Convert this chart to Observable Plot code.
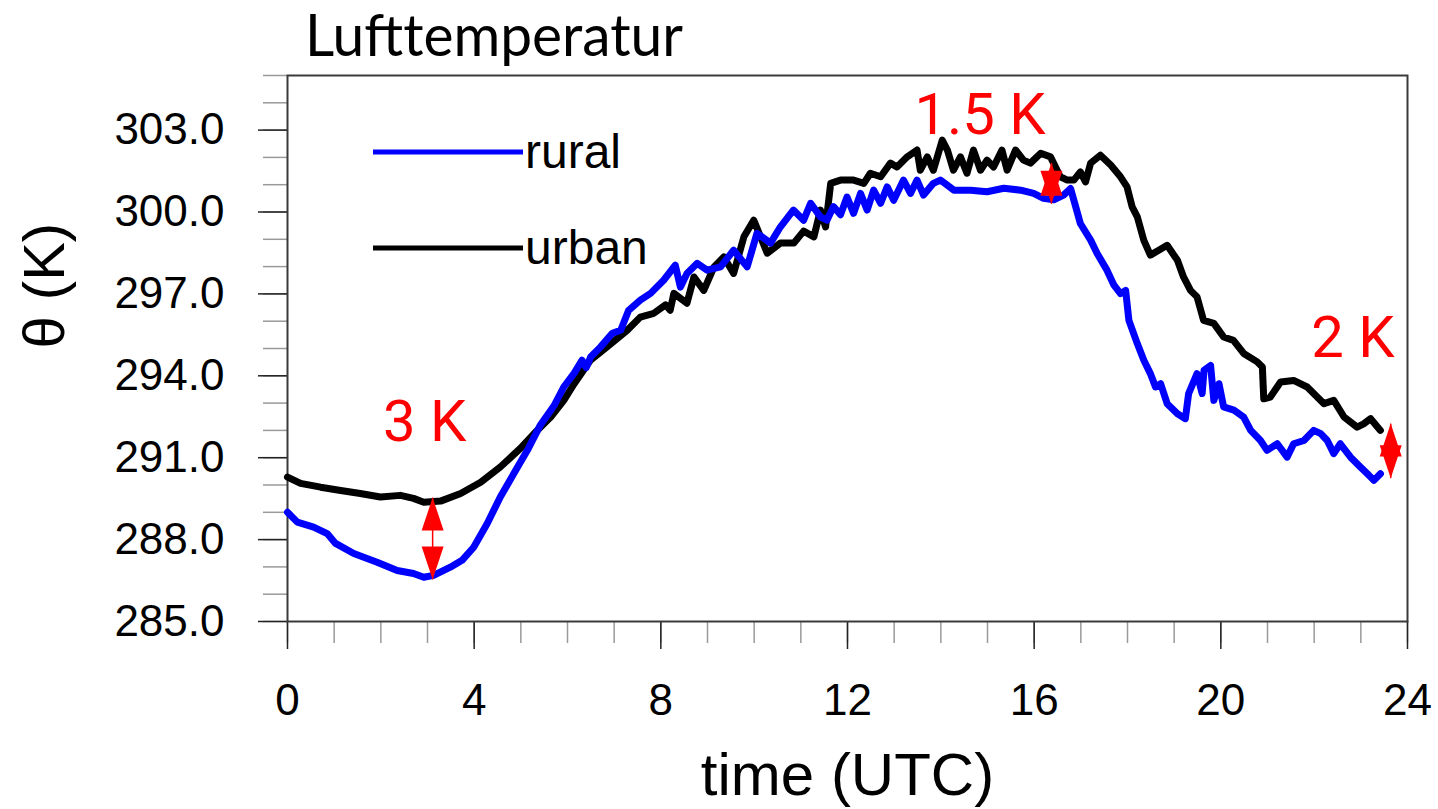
<!DOCTYPE html>
<html>
<head>
<meta charset="utf-8">
<script src="https://cdn.jsdelivr.net/npm/d3@7"></script>
<script src="https://cdn.jsdelivr.net/npm/@observablehq/plot@0.6"></script>
<style>
  body { margin: 0; background: #fff; }
  #chart svg { display: block; }
</style>
</head>
<body>
<div id="chart"></div>
<script>
// Potential temperature over one day, rural vs urban station (hours UTC, K)
const ruralTime = [0.00,0.21,0.56,0.85,1.03,1.42,1.92,2.35,2.70,2.92,3.13,3.49,3.74,3.99,4.28,4.56,4.85,5.14,5.42,5.71,5.92,6.14,6.31,6.40,6.50,6.71,6.96,7.14,7.31,7.56,7.78,8.06,8.31,8.42,8.56,8.78,8.99,9.28,9.56,9.85,10.06,10.35,10.56,10.84,11.06,11.21,11.42,11.56,11.70,11.85,11.99,12.13,12.28,12.42,12.56,12.71,12.85,12.99,13.20,13.35,13.49,13.63,13.84,13.99,14.28,14.64,14.99,15.35,15.71,15.99,16.20,16.42,16.63,16.78,16.89,16.99,17.21,17.35,17.56,17.71,17.85,17.96,18.03,18.21,18.35,18.49,18.60,18.71,18.85,19.07,19.24,19.31,19.49,19.60,19.64,19.78,19.85,19.96,20.06,20.28,20.49,20.64,20.85,20.99,21.21,21.42,21.56,21.78,21.99,22.14,22.28,22.42,22.56,22.78,22.99,23.14,23.28,23.42];
const ruralTheta = [289.00,288.64,288.46,288.22,287.86,287.49,287.17,286.87,286.76,286.62,286.69,286.99,287.24,287.72,288.59,289.56,290.42,291.27,292.20,292.90,293.59,294.09,294.57,294.30,294.70,295.06,295.56,295.67,296.40,296.77,297.02,297.50,298.05,297.25,297.75,298.12,297.87,297.99,298.60,297.99,299.22,298.86,299.45,300.07,299.70,300.32,299.82,299.70,300.20,299.90,300.55,299.95,300.68,300.07,300.80,300.32,300.92,300.43,301.17,300.68,301.17,300.62,301.05,301.17,300.80,300.80,300.74,300.87,300.80,300.68,300.50,300.45,300.62,300.86,300.19,299.58,298.97,298.48,297.87,297.32,297.01,297.13,296.03,295.18,294.57,294.08,293.59,293.71,292.98,292.61,292.43,293.35,294.08,293.35,294.20,294.38,293.10,293.71,292.86,292.74,292.49,292.00,291.63,291.27,291.51,291.02,291.51,291.63,292.00,291.88,291.63,291.15,291.51,291.02,290.66,290.41,290.17,290.41];

const urbanTime = [0.00,0.28,0.71,1.14,1.56,1.99,2.42,2.70,2.92,3.28,3.71,4.14,4.56,4.99,5.35,5.64,5.92,6.14,6.49,6.85,7.28,7.56,7.85,8.10,8.20,8.28,8.56,8.71,8.92,9.14,9.35,9.56,9.78,9.99,10.28,10.56,10.85,11.06,11.28,11.42,11.53,11.64,11.85,12.13,12.35,12.49,12.71,12.92,13.06,13.28,13.49,13.56,13.71,13.84,14.03,14.14,14.27,14.42,14.56,14.70,14.85,14.99,15.13,15.31,15.42,15.60,15.77,15.92,16.14,16.35,16.56,16.71,16.85,16.99,17.10,17.21,17.42,17.64,17.85,17.99,18.10,18.21,18.35,18.49,18.67,18.85,19.07,19.20,19.35,19.49,19.63,19.85,20.06,20.27,20.49,20.78,20.89,20.92,21.06,21.28,21.56,21.85,21.99,22.21,22.42,22.64,22.92,23.06,23.21,23.42];
const urbanTheta = [290.29,290.06,289.92,289.80,289.69,289.56,289.62,289.51,289.37,289.41,289.69,290.10,290.66,291.34,292.00,292.49,293.10,293.70,294.57,295.06,295.67,296.15,296.29,296.60,296.40,297.02,296.66,297.62,297.13,297.99,298.35,297.75,299.09,299.70,298.49,298.86,298.86,299.30,299.09,300.07,299.45,301.05,301.17,301.17,301.05,301.42,301.29,301.79,301.65,302.02,302.27,301.53,302.02,301.53,302.63,302.27,301.53,302.02,301.42,302.27,301.53,301.90,301.65,302.27,301.53,302.27,301.90,301.79,302.15,302.02,301.29,301.17,301.17,301.47,301.10,301.79,302.08,301.72,301.29,300.92,300.19,299.82,298.96,298.42,298.60,298.78,298.23,297.62,297.13,296.89,296.03,295.92,295.42,295.30,294.82,294.51,294.32,293.16,293.22,293.77,293.83,293.59,293.35,292.98,293.10,292.49,292.12,292.24,292.43,292.00];

// Axis ticks
const xTicks = [0, 4, 8, 12, 16, 20, 24];
const xMinorTicks = d3.range(0, 25, 1);
const yTicks = [285, 288, 291, 294, 297, 300, 303];
const yMinorTicks = d3.range(285, 306, 1);

// Urban-rural difference markers: time, centre of the gap, size of the gap (K)
const gapTime = [3.11, 16.37, 23.64];
const gapCenter = [288.04, 301.05, 291.25];
const gapSize = [3, 1.5, 2];
const gapLabelTime = [2.94, 14.84, 22.83];
const gapLabelTheta = [292.28, 303.55, 295.36];

// Legend
const seriesNames = ["rural", "urban"];
const seriesColors = ["#0000ff", "#000000"];

const rural = ruralTime.map((t, i) => ({t, theta: ruralTheta[i]}));
const urban = urbanTime.map((t, i) => ({t, theta: urbanTheta[i]}));
const gaps = gapTime.map((t, i) => ({
  t,
  low: gapCenter[i] - gapSize[i] / 2,
  high: gapCenter[i] + gapSize[i] / 2,
  label: `${gapSize[i]} K`,
  lt: gapLabelTime[i],
  ly: gapLabelTheta[i]
}));

// Slim filled arrowheads whose tip sits on the data point
const headUp = {
  draw(ctx, size) {
    const h = Math.sqrt(size), w = h * 2 / 3;
    ctx.moveTo(0, 0); ctx.lineTo(w / 2, h); ctx.lineTo(-w / 2, h); ctx.closePath();
  }
};
const headDown = {
  draw(ctx, size) {
    const h = Math.sqrt(size), w = h * 2 / 3;
    ctx.moveTo(0, 0); ctx.lineTo(w / 2, -h); ctx.lineTo(-w / 2, -h); ctx.closePath();
  }
};
const headR = 33 / Math.sqrt(Math.PI);

const sans = "'Liberation Sans', Arial, Helvetica, sans-serif";

const plot = Plot.plot({
  width: 1438,
  height: 809,
  marginLeft: 287,
  marginRight: 31,
  marginTop: 75,
  marginBottom: 188,
  x: {domain: [0, 24]},
  y: {domain: [285, 305]},
  style: {fontFamily: sans, background: "#fff", color: "#000"},
  marks: [
    Plot.axisY(yMinorTicks, {tickSize: 24, tickFormat: () => "", stroke: "#9a9a9a", strokeWidth: 1.5, label: null}),
    Plot.axisY(yTicks, {tickSize: 29, tickPadding: 34, tickFormat: d3.format(".1f"), fontSize: 44, stroke: "#222", strokeWidth: 1.5, label: null}),
    Plot.axisX(xMinorTicks, {tickSize: 22, tickFormat: () => "", stroke: "#9a9a9a", strokeWidth: 1.5, label: null}),
    Plot.axisX(xTicks, {tickSize: 28, tickPadding: 34, fontSize: 44, stroke: "#222", strokeWidth: 1.5, label: null}),
    Plot.frame({stroke: "#3a3a3a", strokeWidth: 2}),
    Plot.line(urban, {x: "t", y: "theta", stroke: "#000", strokeWidth: 7, strokeLinejoin: "round", strokeLinecap: "round"}),
    Plot.line(rural, {x: "t", y: "theta", stroke: "#0000ff", strokeWidth: 7, strokeLinejoin: "round", strokeLinecap: "round"}),
    Plot.link(gaps, {x1: "t", x2: "t", y1: "low", y2: "high", stroke: "#ff0000", strokeWidth: 1.5}),
    Plot.dot(gaps, {x: "t", y: "high", symbol: headUp, r: headR, fill: "#ff0000", stroke: "none"}),
    Plot.dot(gaps, {x: "t", y: "low", symbol: headDown, r: headR, fill: "#ff0000", stroke: "none"}),
    Plot.text(gaps, {x: "lt", y: "ly", text: "label", fill: "#ff0000", fontSize: 58, fontFamily: "Roboto, 'Noto Sans', sans-serif", lineAnchor: "middle"}),
    Plot.text(["time (UTC)"], {frameAnchor: "bottom", dy: 154, fontSize: 60, lineAnchor: "middle", fill: "#000"}),
    Plot.text(["θ (K)"], {frameAnchor: "left", dx: -242, rotate: -90, fontSize: 58, lineAnchor: "middle", fill: "#000"})
  ]
});

// Title and legend drawn into the same SVG
const svg = d3.select(plot);
svg.append("text")
  .attr("x", 305)
  .attr("y", 56)
  .attr("text-anchor", "start")
  .attr("font-family", "Lato, 'Open Sans', sans-serif")
  .attr("font-size", 58)
  .attr("textLength", 378)
  .attr("lengthAdjust", "spacingAndGlyphs")
  .attr("fill", "#000")
  .text("Lufttemperatur");

const legend = svg.append("g")
  .attr("font-family", sans)
  .attr("font-size", 48)
  .attr("text-anchor", "start")
  .attr("fill", "#000");
seriesNames.forEach((name, i) => {
  const ly = 152 + i * 96;
  legend.append("line")
    .attr("x1", 373).attr("x2", 523).attr("y1", ly).attr("y2", ly)
    .attr("stroke", seriesColors[i]).attr("stroke-width", 5);
  legend.append("text").attr("x", 525).attr("y", ly + 16).text(name);
});

document.getElementById("chart").append(plot);
</script>
</body>
</html>
